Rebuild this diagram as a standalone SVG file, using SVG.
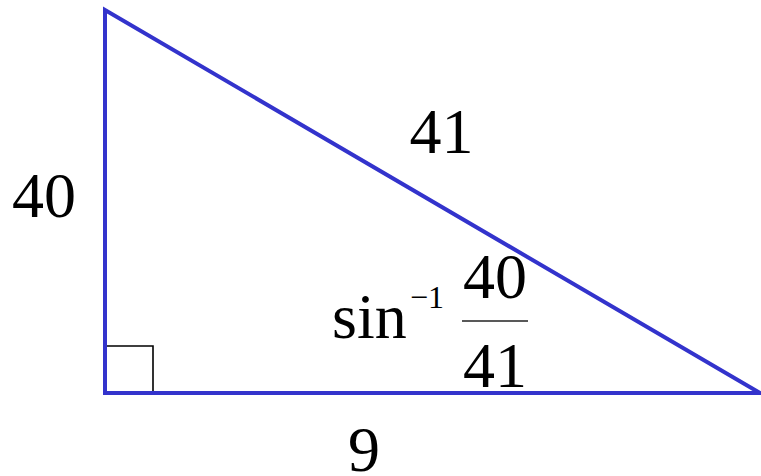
<svg xmlns="http://www.w3.org/2000/svg" width="761" height="476" viewBox="0 0 761 476">
<style>
.t{font-family:"Liberation Serif","Times New Roman",serif;font-size:64px;fill:#000}
.m{text-anchor:middle}
</style>
<rect width="761" height="476" fill="#fff"/>
<g id="right-angle"><path d="M105,346 H153 V393" fill="none" stroke="#000" stroke-width="1.6"/></g>
<g id="triangle"><path d="M105,393 V10 L760,393 Z" fill="none" stroke="#3333cc" stroke-width="4" stroke-linejoin="miter"/></g>
<g id="labels">
<text class="t m" x="44" y="217">40</text>
<text class="t m" x="441.5" y="153">41</text>
<text class="t m" x="364" y="471">9</text>
<text class="t" x="332" y="338">sin</text>
<text class="t" x="410" y="308" style="font-size:32px">−1</text>
<text class="t m" x="495" y="298">40</text>
<line x1="462" y1="321" x2="528" y2="321" stroke="#222" stroke-width="1.5"/>
<text class="t m" x="495" y="387">41</text>
</g>
</svg>
